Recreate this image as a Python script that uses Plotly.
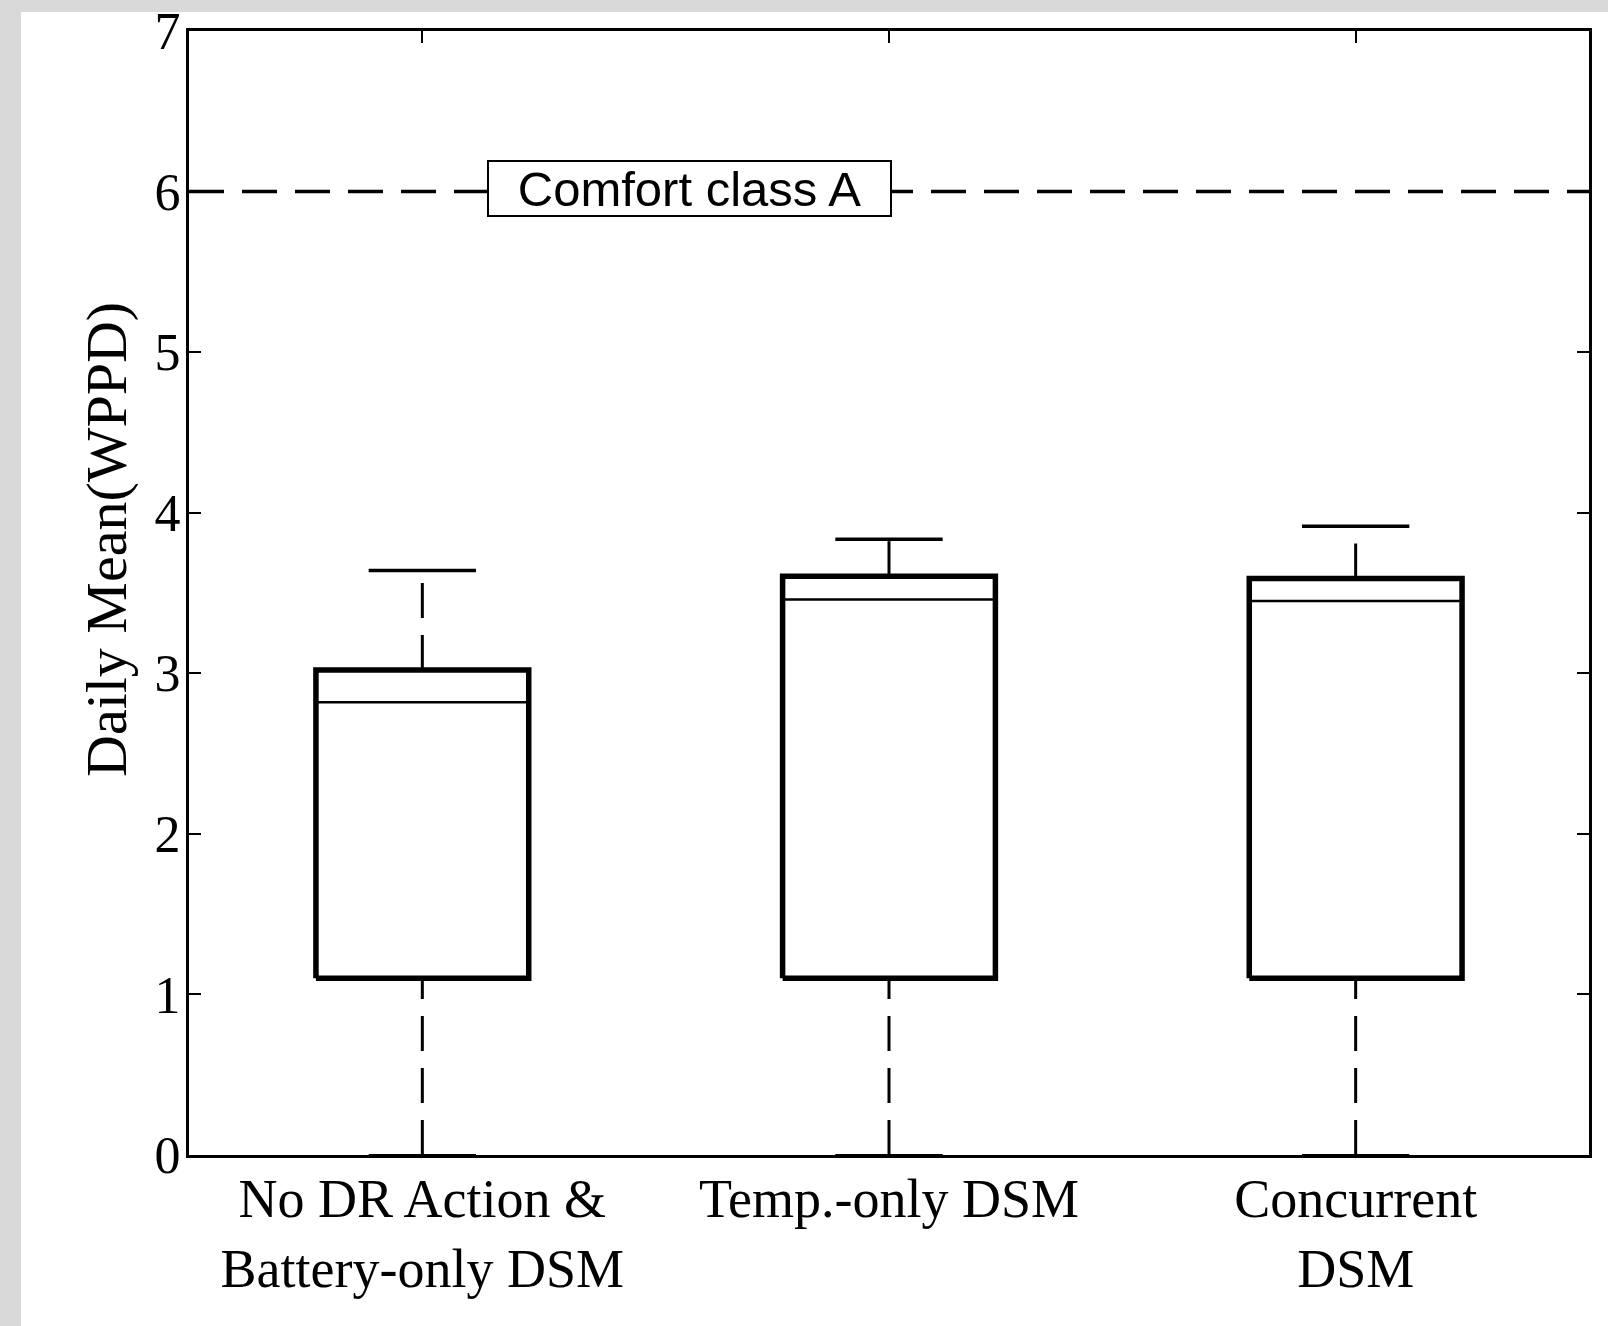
import plotly.graph_objects as go

# ---- data ----
categories = ["No DR Action &<br>Battery-only DSM", "Temp.-only DSM", "Concurrent<br>DSM"]
positions = [1, 2, 3]
lower_whisker = [0.0, 0.0, 0.0]
q1 = [1.10, 1.10, 1.10]
median = [2.82, 3.46, 3.45]
q3 = [3.02, 3.605, 3.59]
upper_whisker = [3.64, 3.835, 3.915]
comfort_threshold = 6.0
comfort_label = "Comfort class A"
y_title = "Daily Mean(WPPD)"
y_ticks = [0, 1, 2, 3, 4, 5, 6, 7]

BOX_HALF = 0.228
CAP_HALF = 0.115
DASH = "35px,17px"
SERIF = "Liberation Serif"

fig = go.Figure()

# comfort threshold dashed line
fig.add_trace(go.Scatter(x=[0.5, 3.5], y=[comfort_threshold, comfort_threshold], mode="lines",
                         line=dict(color="black", width=3.5, dash="35px,18px"), hoverinfo="skip"))

for p, lw, a, m, b, uw in zip(positions, lower_whisker, q1, median, q3, upper_whisker):
    # upper whisker (dashed, from box up)
    fig.add_trace(go.Scatter(x=[p, p], y=[b, uw], mode="lines",
                             line=dict(color="black", width=3, dash=DASH), hoverinfo="skip"))
    # lower whisker (dashed, from bottom up)
    fig.add_trace(go.Scatter(x=[p, p], y=[lw, a], mode="lines",
                             line=dict(color="black", width=3, dash=DASH), hoverinfo="skip"))
    # caps
    fig.add_trace(go.Scatter(x=[p - CAP_HALF, p + CAP_HALF], y=[uw, uw], mode="lines",
                             line=dict(color="black", width=3.5), hoverinfo="skip"))
    fig.add_trace(go.Scatter(x=[p - CAP_HALF, p + CAP_HALF], y=[lw, lw], mode="lines",
                             line=dict(color="black", width=2), hoverinfo="skip"))
    # box
    fig.add_trace(go.Scatter(x=[p - BOX_HALF, p + BOX_HALF, p + BOX_HALF, p - BOX_HALF, p - BOX_HALF],
                             y=[a, a, b, b, a], mode="lines",
                             line=dict(color="black", width=5.5), hoverinfo="skip"))
    # median
    fig.add_trace(go.Scatter(x=[p - BOX_HALF, p + BOX_HALF], y=[m, m], mode="lines",
                             line=dict(color="black", width=2.5), hoverinfo="skip"))

# page geometry helpers (pixel -> paper)
W, H = 1608, 1326
L, R, T, B = 189, 19, 31, 171
pw, ph = W - L - R, H - T - B
def px_x(px):
    return (px - L) / pw
def px_y(py):
    return (H - B - py) / ph

fig.add_annotation(x=1.572, y=6.02, xref="x", yref="y", text=comfort_label, showarrow=False,
                   font=dict(family="Liberation Sans", size=49, color="black"),
                   bgcolor="white", bordercolor="black", borderwidth=2, borderpad=0,
                   width=401, height=53, align="center", valign="middle")

# y-axis title (placed as in the reference, above the axis centre)
fig.add_annotation(x=px_x(106), y=px_y(540), xref="paper", yref="paper", text=y_title,
                   showarrow=False, textangle=-90,
                   font=dict(family=SERIF, size=58, color="black"),
                   xanchor="center", yanchor="middle")

# gray page border strips (top and left)
gray = "#d9d9d9"
fig.add_shape(type="rect", xref="paper", yref="paper", x0=px_x(-5), x1=px_x(21), y0=px_y(H + 5), y1=px_y(-5),
              fillcolor=gray, line=dict(width=0), layer="below")
fig.add_shape(type="rect", xref="paper", yref="paper", x0=px_x(-5), x1=px_x(W + 5), y0=px_y(12), y1=px_y(-5),
              fillcolor=gray, line=dict(width=0), layer="below")

fig.update_layout(
    width=W, height=H,
    margin=dict(l=L, r=R, t=T, b=B, autoexpand=False),
    paper_bgcolor="white", plot_bgcolor="white",
    showlegend=False,
    font=dict(family=SERIF, color="black"),
)
fig.update_xaxes(range=[0.5, 3.5], tickvals=positions, ticktext=categories,
                 showline=True, linecolor="black", linewidth=3, mirror="ticks",
                 ticks="inside", ticklen=12, tickwidth=2, tickcolor="black",
                 showgrid=False, zeroline=False, automargin=False, ticklabelstandoff=-6,
                 tickfont=dict(family=SERIF, size=54, color="black"))
fig.update_yaxes(range=[0, 7], tickvals=y_ticks,
                 showline=True, linecolor="black", linewidth=3, mirror="ticks",
                 ticks="inside", ticklen=12, tickwidth=2, tickcolor="black",
                 showgrid=False, zeroline=False, automargin=False, ticklabelstandoff=-5,
                 tickfont=dict(family=SERIF, size=52, color="black"))

fig.write_html("out.html")
